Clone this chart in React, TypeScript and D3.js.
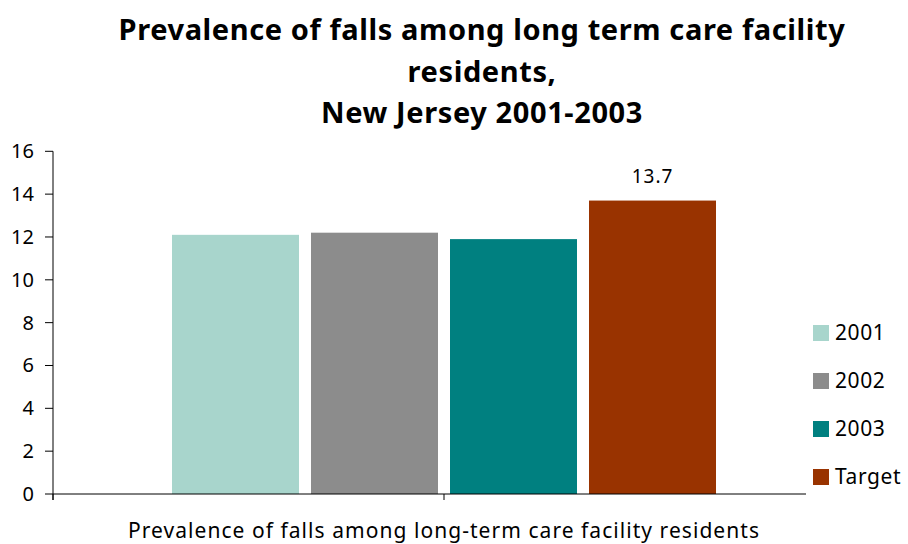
import React from "react";
import * as d3 from "d3";

const categories = ["Prevalence of falls among long-term care facility residents"];
const seriesNames = ["2001", "2002", "2003", "Target"];
const seriesValues = [12.1, 12.2, 11.9, 13.7];
const seriesColors = ["#a8d5cc", "#8c8c8c", "#008080", "#993300"];
const yTicks = [0, 2, 4, 6, 8, 10, 12, 14, 16];
const titleLines = [
  "Prevalence of falls among long term care facility",
  "residents,",
  "New Jersey 2001-2003",
];
const labeledSeries = ["Target"];

const W = 908;
const H = 544;
const FONT = "'Noto Sans', sans-serif";

export default function App() {
  const left = 53;
  const right = 835;
  const top = 151.3;
  const bottom = 494;

  const y = d3.scaleLinear().domain([0, 16]).range([bottom, top]);
  const x0 = d3.scaleBand().domain(categories).range([left, right]).paddingInner(0).paddingOuter(0);
  const groupPad = 119;
  const x1 = d3
    .scaleBand()
    .domain(seriesNames)
    .range([groupPad, x0.bandwidth() - groupPad])
    .paddingInner(12 / 139)
    .paddingOuter(0);

  return (
    <svg
      width={W}
      height={H}
      style={{ position: "absolute", left: 0, top: 0, background: "#fff" }}
      fontFamily={FONT}
    >
      {titleLines.map((t, i) => (
        <text
          key={i}
          x={482}
          y={40 + i * 41.5}
          textAnchor="middle"
          fontSize={29}
          fontWeight="bold"
          letterSpacing={0.6}
          fill="#000"
        >
          {t}
        </text>
      ))}

      {categories.map((c) => (
        <g key={c} transform={`translate(${x0(c)},0)`}>
          {seriesNames.map((s, i) => (
            <rect
              key={s}
              x={x1(s)}
              y={y(seriesValues[i])}
              width={x1.bandwidth()}
              height={y(0) - y(seriesValues[i])}
              fill={seriesColors[i]}
            />
          ))}
          {seriesNames.map((s, i) =>
            labeledSeries.includes(s) ? (
              <text
                key={"l" + s}
                x={(x1(s) as number) + x1.bandwidth() / 2}
                y={y(seriesValues[i]) - 18}
                textAnchor="middle"
                fontSize={19}
                letterSpacing={1}
                fill="#000"
              >
                {seriesValues[i].toFixed(1)}
              </text>
            ) : null
          )}
        </g>
      ))}

      {/* y axis */}
      <line x1={left} x2={left} y1={top} y2={bottom + 6} stroke="#000" strokeWidth={1} />
      {yTicks.map((t) => (
        <g key={t}>
          <line x1={left - 8} x2={left} y1={y(t)} y2={y(t)} stroke="#000" />
          <text x={34} y={y(t) + 7} textAnchor="end" fontSize={20} fill="#000">
            {t}
          </text>
        </g>
      ))}

      {/* x axis */}
      <line x1={left} x2={806} y1={bottom} y2={bottom} stroke="#000" />
      {[left, (left + right) / 2, right].map((tx, i) => (
        <line key={i} x1={tx} x2={tx} y1={bottom} y2={bottom + 6} stroke="#000" />
      ))}
      {categories.map((c) => (
        <text
          key={c}
          x={(x0(c) as number) + x0.bandwidth() / 2}
          y={538}
          textAnchor="middle"
          fontSize={21}
          letterSpacing={1.05}
          fill="#000"
        >
          {c}
        </text>
      ))}

      {/* legend */}
      <rect x={806} y={310} width={102} height={190} fill="#fff" />
      {seriesNames.map((s, i) => (
        <g key={s} transform={`translate(813,${325 + i * 48})`}>
          <rect x={0} y={0} width={16} height={16} fill={seriesColors[i]} />
          <text x={22} y={15} fontSize={21} letterSpacing={0.6} fill="#000">
            {s}
          </text>
        </g>
      ))}
    </svg>
  );
}
